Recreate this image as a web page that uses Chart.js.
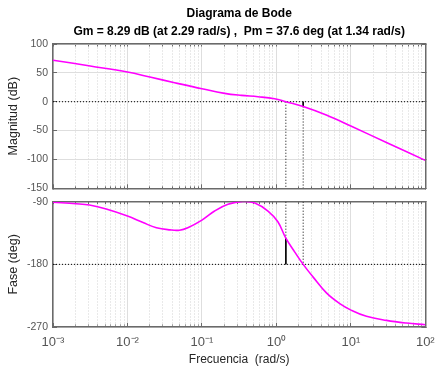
<!DOCTYPE html>
<html><head><meta charset="utf-8">
<script src="https://cdn.jsdelivr.net/npm/chart.js@4"></script>
<style>
html,body{margin:0;padding:0;background:#fff;}
#wrap{position:relative;width:436px;height:367px;overflow:hidden;}
canvas{position:absolute;left:0;}
#c1{top:0;} #c2{top:195px;}
</style></head><body>
<div id="wrap"><canvas id="c1" width="436" height="195"></canvas><canvas id="c2" width="436" height="172"></canvas></div>
<script>
// ---- data ----
const titleLines = ['Diagrama de Bode', 'Gm = 8.29 dB (at 2.29 rad/s) ,  Pm = 37.6 deg (at 1.34 rad/s)'];
const magLabel = 'Magnitud (dB)';
const phaseLabel = 'Fase (deg)';
const freqLabel = 'Frecuencia  (rad/s)';

const magFreq = [0.001, 0.00316, 0.01, 0.02, 0.043, 0.1, 0.2018, 0.339, 0.566, 0.948, 1.34, 2.29, 4.68, 10, 31.6, 100];
const magDb   = [72, 61.9, 51.5, 42.8, 33, 22.5, 14.5, 11, 8.7, 5.2, 0, -8.29, -23, -42, -72, -101.6];

const phaseFreq = [0.001, 0.00204, 0.00309, 0.00519, 0.01, 0.0162, 0.0245, 0.0372, 0.0501, 0.0646, 0.1, 0.148, 0.224, 0.355, 0.513, 0.771, 1.047, 1.34, 1.758, 2.29, 3.1, 4.7, 7.1, 10.2, 16.2, 30.1, 55.8, 100];
const phaseDeg  = [-90.8, -92.9, -94.8, -100.5, -110.6, -120, -127.4, -130.5, -131, -127.4, -116.4, -103.4, -93.8, -89.5, -91.9, -103.4, -118.8, -142.4, -162, -180, -198, -221, -236.4, -246.1, -254.7, -260.5, -264.3, -266.7];

const gmFreq = 2.29, gmDb = -8.29;
const pmFreq = 1.34, pmPhase = -142.4;

const freqRange = [0.001, 100];
const decadeTicks = [0.001, 0.01, 0.1, 1, 10, 100];
const decadeLabels = ['10\u207B\u00B3', '10\u207B\u00B2', '10\u207B\u00B9', '10\u2070', '10\u00B9', '10\u00B2'];
const magTicks = [-150, -100, -50, 0, 50, 100];
const phaseTicks = [-270, -180, -90];

// ---- styling ----
const FONT = "'Liberation Sans', Arial, Helvetica, sans-serif";
const FRAME = '#6a6a6a';
const TICKCOL = '#555555';
const minorTicks = [];
for (let e = -3; e < 2; e++) for (let m = 2; m < 10; m++) minorTicks.push(m * Math.pow(10, e));
const topTicks = decadeTicks.concat(minorTicks).sort((a, b) => a - b);
const isDecade = v => decadeTicks.some(d => Math.abs(d - v) < d * 1e-6);

const pts = (xs, ys) => xs.map((x, i) => ({x: x, y: ys[i]}));
const seg = (x1, y1, x2, y2) => [{x: x1, y: y1}, {x: x2, y: y2}];

function curveDs(data) {
  return {data: data, borderColor: '#ff00ff', borderWidth: 1.6, pointRadius: 0, tension: 0.4, fill: false};
}
function lineDs(data, dotted) {
  return {data: data, borderColor: '#000', borderWidth: 1, pointRadius: 0, borderDash: dotted ? [1, 2] : [], fill: false, tension: 0};
}
const noPad = s => { s.paddingLeft = 0; s.paddingRight = 0; s.paddingTop = 0; s.paddingBottom = 0; };

function scales(yTicks, yLabel, showX) {
  return {
    x: {
      type: 'logarithmic', position: 'bottom', weight: 2, min: freqRange[0], max: freqRange[1],
      afterBuildTicks: s => { s.ticks = decadeTicks.map(v => ({value: v})); },
      afterFit: s => { s.height = showX ? 40 : 0; noPad(s); },
      ticks: {display: showX, autoSkip: false, maxRotation: 0, minRotation: 0, padding: 12, color: TICKCOL,
        font: {family: FONT, size: 13}, callback: (v, i) => decadeLabels[i]},
      grid: {color: '#dedede', lineWidth: 1, drawTicks: true, tickLength: -4, tickColor: FRAME, tickWidth: 1},
      border: {display: true, color: FRAME, width: 1.5},
      title: {display: showX, text: freqLabel, color: '#262626', font: {family: FONT, size: 12}, padding: {top: 0, bottom: 0}}
    },
    xb: {
      type: 'logarithmic', position: 'bottom', weight: 0, min: freqRange[0], max: freqRange[1],
      afterBuildTicks: s => { s.ticks = minorTicks.map(v => ({value: v})); },
      afterFit: s => { s.height = 0; noPad(s); },
      ticks: {display: false},
      grid: {drawOnChartArea: false, drawTicks: true, tickLength: -2.5, tickColor: FRAME, tickWidth: 1},
      border: {display: false}
    },
    xm: {
      type: 'logarithmic', position: 'top', min: freqRange[0], max: freqRange[1],
      afterBuildTicks: s => { s.ticks = topTicks.map(v => ({value: v})); },
      afterFit: s => { s.height = 0; noPad(s); },
      ticks: {display: false},
      grid: {color: c => (c.tick && isDecade(c.tick.value)) ? 'rgba(0,0,0,0)' : '#d2d2d2', lineWidth: 1,
        drawTicks: true, tickLength: c => (c.tick && isDecade(c.tick.value)) ? -4 : -2.5, tickColor: FRAME, tickWidth: 1, tickBorderDash: []},
      border: {display: true, color: FRAME, width: 1.5, dash: [1, 2]}
    },
    y: {
      type: 'linear', position: 'left', min: yTicks[0], max: yTicks[yTicks.length - 1],
      afterBuildTicks: s => { s.ticks = yTicks.map(v => ({value: v})); },
      afterFit: s => { s.width = 53; noPad(s); },
      ticks: {padding: 9, color: TICKCOL, font: {family: FONT, size: 10.5}},
      grid: {color: '#dedede', lineWidth: 1, drawTicks: true, tickLength: -4, tickColor: FRAME, tickWidth: 1},
      border: {display: true, color: FRAME, width: 1.5},
      title: {display: true, text: yLabel, color: '#262626', font: {family: FONT, size: 12.5}, padding: {top: 6, bottom: 0}}
    },
    yr: {
      type: 'linear', position: 'right', min: yTicks[0], max: yTicks[yTicks.length - 1],
      afterBuildTicks: s => { s.ticks = yTicks.map(v => ({value: v})); },
      afterFit: s => { s.width = 0; noPad(s); },
      ticks: {display: false},
      grid: {drawOnChartArea: false, drawTicks: true, tickLength: -4, tickColor: FRAME, tickWidth: 1},
      border: {display: true, color: FRAME, width: 1.5}
    }
  };
}

const common = {
  responsive: false, animation: false, devicePixelRatio: 1,
  events: [],
  plugins: {legend: {display: false}, tooltip: {enabled: false}}
};

new Chart(document.getElementById('c1'), {
  type: 'line',
  data: {datasets: [
    curveDs(pts(magFreq, magDb)),
    lineDs(seg(freqRange[0], 0, freqRange[1], 0), true),
    lineDs(seg(pmFreq, 0, pmFreq, magTicks[0]), true),
    lineDs(seg(gmFreq, 0, gmFreq, gmDb), false),
    lineDs(seg(gmFreq, gmDb, gmFreq, magTicks[0]), true)
  ]},
  options: Object.assign({}, common, {
    layout: {padding: {left: 0, right: 10.7, top: 0, bottom: 6.7}},
    plugins: Object.assign({}, common.plugins, {
      title: {display: true, text: titleLines, color: '#000', fullSize: false,
        font: {family: FONT, size: 12, weight: 'bold', lineHeight: 1.53},
        padding: {top: 4.1, bottom: 3.2}}
    }),
    scales: scales(magTicks, magLabel, false)
  })
});

new Chart(document.getElementById('c2'), {
  type: 'line',
  data: {datasets: [
    curveDs(pts(phaseFreq, phaseDeg)),
    lineDs(seg(freqRange[0], -180, freqRange[1], -180), true),
    lineDs(seg(pmFreq, phaseTicks[2], pmFreq, pmPhase), true),
    lineDs(seg(pmFreq, pmPhase, pmFreq, -180), false),
    lineDs(seg(gmFreq, phaseTicks[2], gmFreq, -180), true)
  ]},
  options: Object.assign({}, common, {
    layout: {padding: {left: 0, right: 10.7, top: 6.7, bottom: 0}},
    scales: scales(phaseTicks, phaseLabel, true)
  })
});
</script>
</body></html>
